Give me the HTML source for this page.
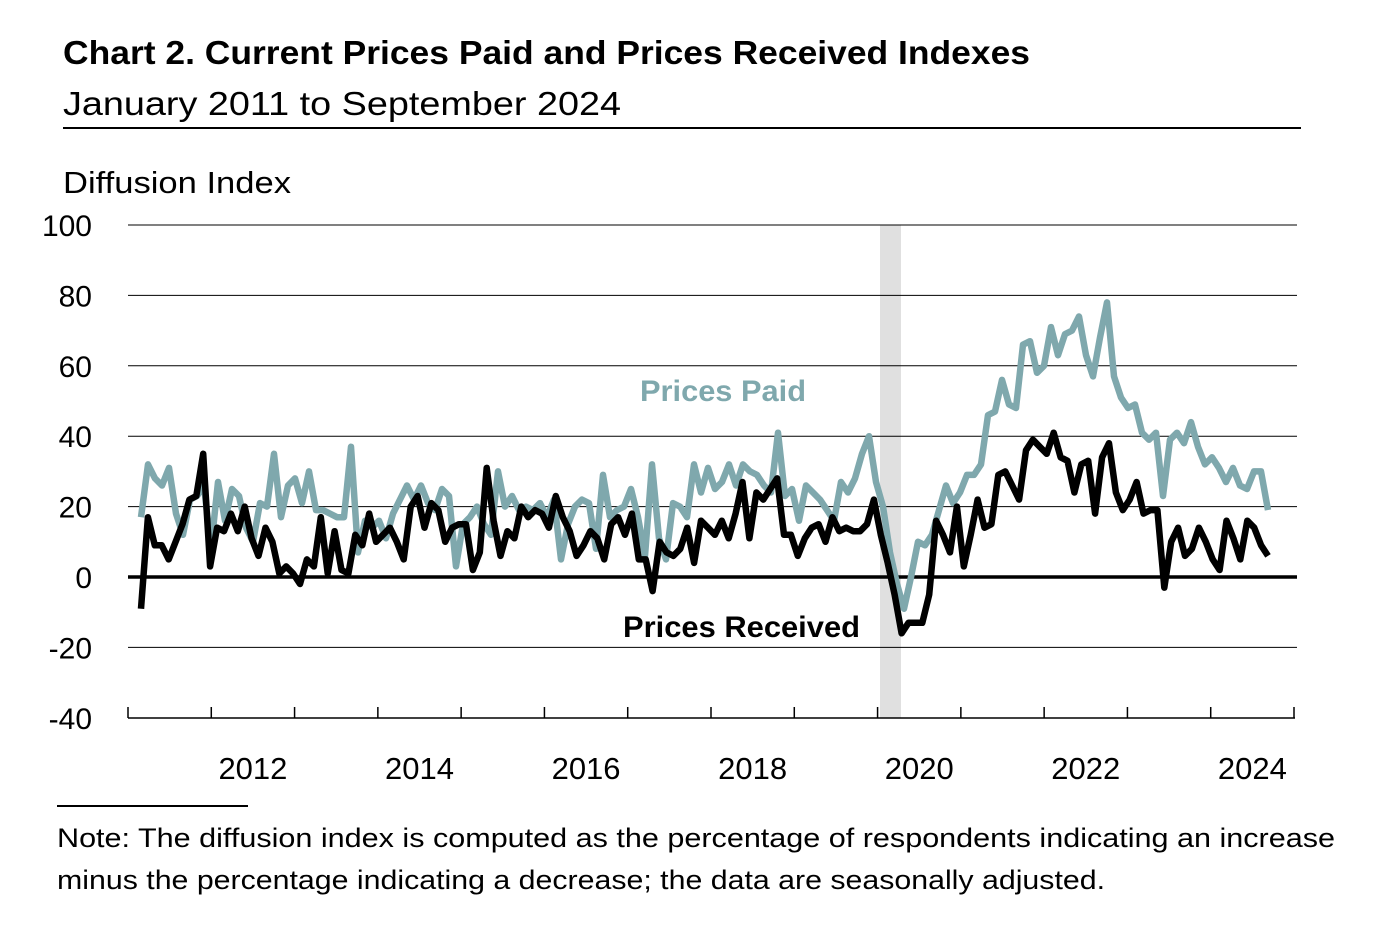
<!DOCTYPE html>
<html><head><meta charset="utf-8"><style>
body{margin:0;background:#fff;}
svg text{font-family:"Liberation Sans",Calibri,sans-serif;}
</style></head><body>
<svg width="1394" height="933" viewBox="0 0 1394 933">
<text x="63" y="64" font-size="33" font-weight="bold" textLength="967" lengthAdjust="spacingAndGlyphs">Chart 2. Current Prices Paid and Prices Received Indexes</text>
<text x="63" y="115" font-size="33" textLength="558" lengthAdjust="spacingAndGlyphs">January 2011 to September 2024</text>
<line x1="63" y1="128" x2="1301" y2="128" stroke="#000" stroke-width="2"/>
<text x="63" y="193" font-size="31" textLength="228" lengthAdjust="spacingAndGlyphs">Diffusion Index</text>
<rect x="880" y="225" width="21" height="493" fill="#e0e0e0"/>
<g id="grid"></g>
<g id="series"></g>
<text x="640" y="401" font-size="30" font-weight="bold" fill="#7fa8ad" textLength="166" lengthAdjust="spacingAndGlyphs">Prices Paid</text>
<text x="623" y="637" font-size="30" font-weight="bold" fill="#000" textLength="237" lengthAdjust="spacingAndGlyphs">Prices Received</text>
<line x1="57" y1="806" x2="248" y2="806" stroke="#000" stroke-width="2"/>
<text x="57" y="847" font-size="27" textLength="1278" lengthAdjust="spacingAndGlyphs">Note: The diffusion index is computed as the percentage of respondents indicating an increase</text>
<text x="57" y="889" font-size="27" textLength="1048" lengthAdjust="spacingAndGlyphs">minus the percentage indicating a decrease; the data are seasonally adjusted.</text>
</svg>
<script>
const yTicks=[100,80,60,40,20,0,-20,-40];
const yearLabels=["2012","2014","2016","2018","2020","2022","2024"];
const pricesPaid=[17,32,28,26,31,18,12,22,23,26,8,27,16,25,23,14,10,21,20,35,17,26,28,21,30,19,19,18,17,17,37,7,16,14,16,11,18,22,26,22,26,21,19,25,23,3,15,17,20,15,12,30,20,23,19,20,19,21,17,22,5,15,20,22,21,8,29,17,19,20,25,17,6,32,11,5,21,20,17,32,24,31,25,27,32,26,32,30,29,26,24,41,23,25,16,26,24,22,19,16,27,24,28,35,40,27,20,7,-2,-9,0,10,9,12,19,26,21,24,29,29,32,46,47,56,49,48,66,67,58,60,71,63,69,70,74,63,57,68,78,57,51,48,49,41,39,41,23,39,41,38,44,37,32,34,31,27,31,26,25,30,30,19];
const pricesReceived=[-9,17,9,9,5,10,15,22,23,35,3,14,13,18,13,20,11,6,14,10,1,3,1,-2,5,3,17,1,13,2,1,12,9,18,10,12,14,10,5,20,23,14,21,19,10,14,15,15,2,7,31,16,6,13,11,20,17,19,18,14,23,17,13,6,9,13,11,5,15,17,12,18,5,5,-4,10,7,6,8,14,4,16,14,12,16,11,18,27,11,24,22,25,28,12,12,6,11,14,15,10,17,13,14,13,13,15,22,12,4,-5,-16,-13,-13,-13,-5,16,12,7,20,3,12,22,14,15,29,30,26,22,36,39,37,35,41,34,33,24,32,33,18,34,38,24,19,22,27,18,19,19,-3,10,14,6,8,14,10,5,2,16,11,5,16,14,9,6];
const NS="http://www.w3.org/2000/svg";
const yS=v=>577-v*3.52;
const X0=128,X1=1294,yrW=(X1-X0)/14;
const xS=(i,n)=>141+i*(1268-141)/(n-1);
const grid=document.getElementById('grid');
function mk(t,a,p){const e=document.createElementNS(NS,t);for(const k in a)e.setAttribute(k,a[k]);p.appendChild(e);return e;}
yTicks.forEach(v=>{
  if(v>-40){const l=mk('line',{x1:128,x2:1297,y1:yS(v),y2:yS(v),stroke:'#000','stroke-width':v===0?3.5:1},grid);
  
  }
  const t=mk('text',{x:92,y:yS(v)+11,'font-size':30,'text-anchor':'end'},grid);
  t.textContent=v;
  
  
});
const ax=mk('line',{x1:128,x2:1295,y1:718,y2:718,stroke:'#000','stroke-width':1.5},grid);


for(let k=0;k<=14;k++){const x=X0+k*yrW;const tk=mk('line',{x1:x,x2:x,y1:707,y2:718,stroke:'#000','stroke-width':1.5},grid);

}
yearLabels.forEach(s=>{const k=+s-2011;const t=mk('text',{x:X0+(k+0.5)*yrW,y:779,'font-size':31,'text-anchor':'middle'},grid);t.textContent=s;

});
const g=document.getElementById('series');
function line(arr,col,name){const n=arr.length;const d=arr.map((v,i)=>(i?'L':'M')+xS(i,n).toFixed(1)+' '+yS(v).toFixed(1)).join('');
const p=mk('path',{d:d,fill:'none',stroke:col,'stroke-width':6.5,'stroke-linejoin':'round'},g);

}
line(pricesPaid,'#7fa8ad','prices-paid-line');
line(pricesReceived,'#000','prices-received-line');
</script>
</body></html>
